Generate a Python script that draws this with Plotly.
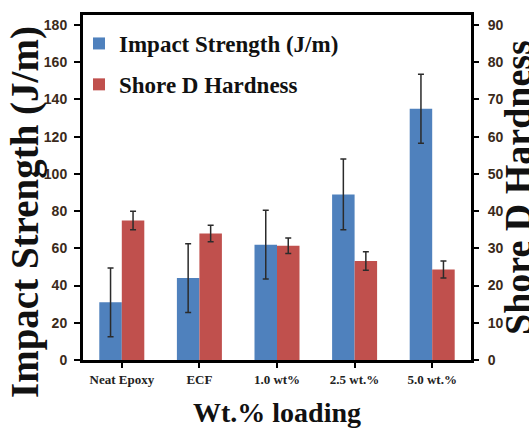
import plotly.graph_objects as go

categories = ["Neat Epoxy", "ECF", "1.0 wt%", "2.5 wt.%", "5.0 wt.%"]
impact_strength = [31, 44, 62, 89, 135]
impact_err = [18.5, 18.5, 18.5, 19, 18.5]
shore_hardness = [37.5, 34, 30.7, 26.6, 24.3]
shore_err = [2.5, 2.2, 2.1, 2.5, 2.3]
left_ticks = [0, 20, 40, 60, 80, 100, 120, 140, 160, 180]
right_ticks = [0, 10, 20, 30, 40, 50, 60, 70, 80, 90]

serif = "Liberation Serif"
sans = "Liberation Sans"
tickcol = "#3b2a1a"

W, H = 529, 428
L, R, T, B = 83, 58, 15, 68
pw = W - L - R
ph = H - T - B

fig = go.Figure()
fig.add_trace(go.Bar(
    x=categories, y=impact_strength, name="Impact Strength (J/m)",
    marker=dict(color="#4F81BD", line=dict(width=0)),
    error_y=dict(type="data", array=impact_err, color="#2b2b2b", thickness=1.5, width=3),
    offsetgroup="a", legendgroup="a", yaxis="y"))
fig.add_trace(go.Bar(
    x=categories, y=shore_hardness, name="Shore D Hardness",
    marker=dict(color="#C0504D", line=dict(width=0)),
    error_y=dict(type="data", array=shore_err, color="#2b2b2b", thickness=1.5, width=3),
    offsetgroup="b", legendgroup="b", yaxis="y2"))

fig.update_layout(
    width=W, height=H,
    margin=dict(l=L, r=R, t=T, b=B),
    paper_bgcolor="white", plot_bgcolor="white",
    barmode="group", bargap=0.42, bargroupgap=0,
    showlegend=True,
    legend=dict(x=(79 - L) / pw, y=(H - B - 22) / ph, xanchor="left", yanchor="top",
                font=dict(family=serif, size=23, color="#111", weight="bold"),
                bgcolor="rgba(0,0,0,0)", tracegroupgap=8, itemwidth=30),
    xaxis=dict(
        showline=True, linecolor="black", linewidth=3, mirror=True,
        ticks="outside", ticklen=5, tickwidth=2, tickcolor="black",
        tickfont=dict(family=serif, size=13, color="#222", weight="bold"),
        title=dict(text="Wt.% loading", font=dict(family=serif, size=28, color="#111", weight="bold"), standoff=17),
        showgrid=False, automargin=False),
    yaxis=dict(
        range=[0, 185.4], tickvals=left_ticks,
        showline=True, linecolor="black", linewidth=3,
        ticks="outside", ticklen=6, tickwidth=2, tickcolor="black",
        tickfont=dict(family=sans, size=14, color=tickcol, weight="bold"),
        ticklabelstandoff=4,
        showgrid=False, zeroline=False, automargin=False),
    yaxis2=dict(
        range=[0, 92.7], tickvals=right_ticks, overlaying="y", side="right",
        showline=True, linecolor="black", linewidth=3,
        ticks="outside", ticklen=5, tickwidth=2, tickcolor="black",
        tickfont=dict(family=sans, size=14, color=tickcol, weight="bold"),
        ticklabelstandoff=6,
        showgrid=False, zeroline=False, automargin=False),
    annotations=[
        dict(text="Impact Strength (J/m)", textangle=-90, showarrow=False,
             xref="paper", yref="paper",
             x=(1 - L) / pw, xanchor="left",
             y=(H - B - 212) / ph, yanchor="middle",
             font=dict(family=serif, size=39, color="#111", weight="bold")),
        dict(text="Shore D Hardness", textangle=-90, showarrow=False,
             xref="paper", yref="paper",
             x=(495 - L) / pw, xanchor="left",
             y=(H - B - 188) / ph, yanchor="middle",
             font=dict(family=serif, size=38, color="#111", weight="bold")),
    ],
)

fig.write_html("out.html", config={"displayModeBar": False},
               post_script="document.body.style.margin='0';")
